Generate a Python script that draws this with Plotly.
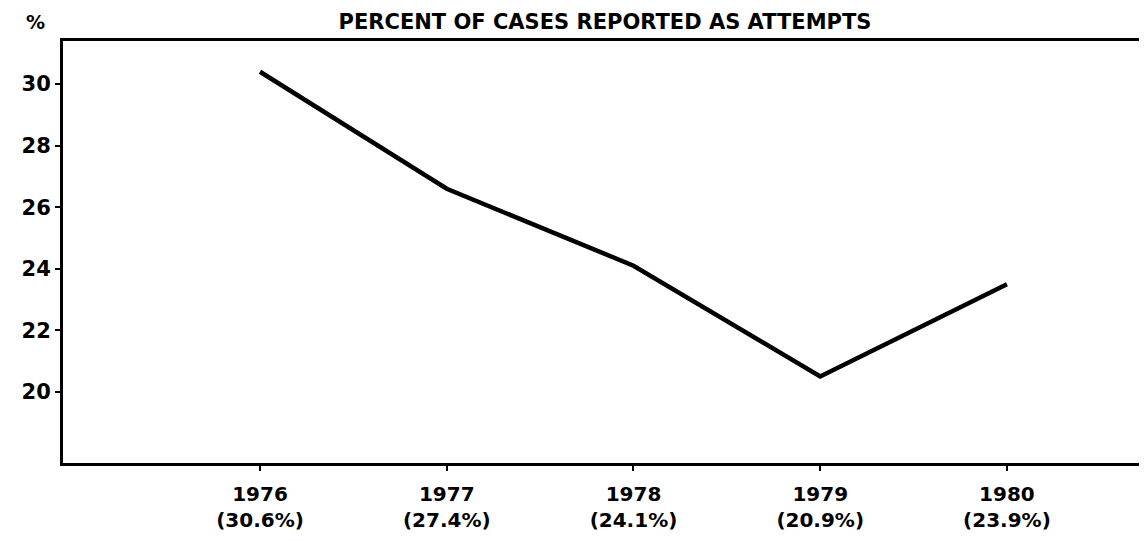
import plotly.graph_objects as go

years = [1976, 1977, 1978, 1979, 1980]
line_values = [30.4, 26.6, 24.1, 20.5, 23.5]
label_percents = ["30.6%", "27.4%", "24.1%", "20.9%", "23.9%"]
y_ticks = [20, 22, 24, 26, 28, 30]

FONT = "DejaVu Sans"
W, H = 1139, 533
L, T, B, R = 55, 33, 78, 0
PW, PH = W - L - R, H - T - B

fig = go.Figure()
fig.add_trace(go.Scatter(
    x=years, y=line_values, mode="lines",
    line=dict(color="black", width=4.5),
    showlegend=False, hoverinfo="skip",
))

fig.update_layout(
    width=W, height=H,
    margin=dict(l=L, r=R, t=T, b=B),
    paper_bgcolor="white", plot_bgcolor="white",
    font=dict(family=FONT, color="black"),
    title=dict(
        text="<b>PERCENT OF CASES REPORTED AS ATTEMPTS</b>",
        x=0.5, xref="paper", xanchor="center",
        y=1 - 14 / H, yref="container", yanchor="middle",
        font=dict(family=FONT, size=21, color="black"),
    ),
    annotations=[dict(
        text="<b>%</b>", xref="paper", yref="paper",
        x=(27 - L) / PW, y=1 + (T - 14) / PH,
        xanchor="center", yanchor="middle",
        showarrow=False, font=dict(family=FONT, size=19, color="black"),
    )],
)

fig.update_xaxes(
    range=[1974.945, 1980.75],
    tickvals=years,
    ticktext=[f"<b>{y}</b><br><b>({p})</b>" for y, p in zip(years, label_percents)],
    tickfont=dict(family=FONT, size=20, color="black"),
    ticks="outside", ticklen=5, tickwidth=2, tickcolor="black",
    ticklabelstandoff=6,
    showline=True, linecolor="black", linewidth=3, mirror=True,
    showgrid=False, zeroline=False,
)
fig.update_yaxes(
    range=[17.69, 31.4],
    tickvals=y_ticks,
    ticktext=[f"<b>{v}</b>" for v in y_ticks],
    tickfont=dict(family=FONT, size=21, color="black"),
    ticks="outside", ticklen=5, tickwidth=2, tickcolor="black",
    showline=True, linecolor="black", linewidth=3, mirror=False,
    showgrid=False, zeroline=False,
)

fig.write_html("out.html")
